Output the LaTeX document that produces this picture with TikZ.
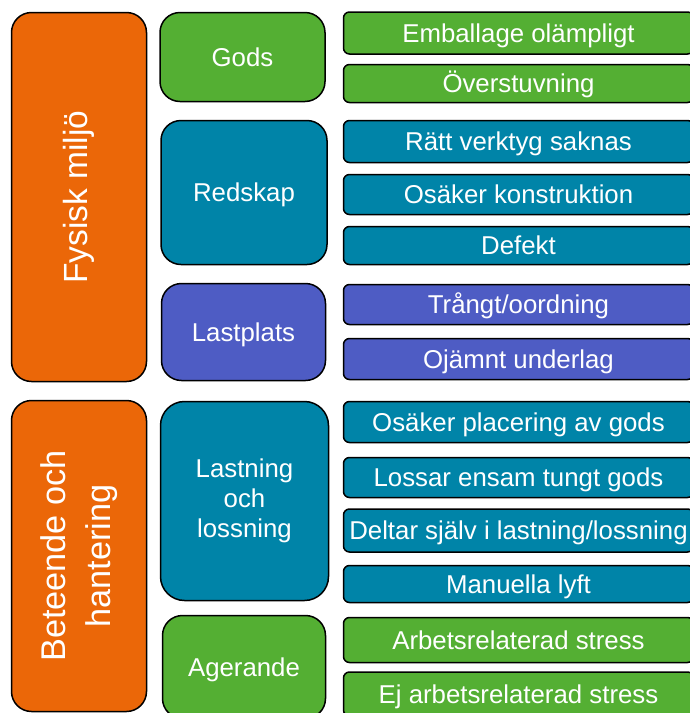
\documentclass[tikz,border=0pt]{standalone}
\usepackage{fontspec}
\setmainfont{Liberation Sans}
\definecolor{orangebox}{RGB}{235,103,8}
\definecolor{greenbox}{RGB}{84,175,51}
\definecolor{tealbox}{RGB}{0,132,168}
\definecolor{purplebox}{RGB}{78,92,196}

\begin{document}
\begin{tikzpicture}[x=1pt, y=-1pt,
  box/.style={rectangle, draw=black, line width=1.5pt, text=white, inner sep=0pt, align=center},
  mainbox/.style={box, fill=orangebox, rounded corners=20pt, rotate=90, minimum height=135pt},
  groupbox/.style={box, rounded corners=20pt, font=\fontsize{25.8}{30}\selectfont},
  itembox/.style={box, rounded corners=6pt, minimum width=350pt, font=\fontsize{25.8}{30}\selectfont, text height=18.6pt, text depth=0pt}]
  \clip (0,0) rectangle (690,713);

  \node[mainbox, minimum width=369pt, font=\fontsize{33.5}{40}\selectfont] (fysisk) at (79,197) {Fysisk miljö};
  \node[mainbox, minimum width=311pt, font=\fontsize{34.3}{45}\selectfont] (beteende) at (79,556) {Beteende och\\hantering};

  \node[groupbox, fill=greenbox, minimum width=165pt, minimum height=89pt, text height=18.6pt, text depth=0pt] (gods) at (242.5,57) {Gods};
  \node[groupbox, fill=tealbox, minimum width=166pt, minimum height=144pt, text height=18.6pt, text depth=0pt] (redskap) at (244,192.5) {Redskap};
  \node[groupbox, fill=purplebox, minimum width=164pt, minimum height=97pt, text height=18.6pt, text depth=0pt] (lastplats) at (243.5,332) {Lastplats};
  \node[groupbox, fill=tealbox, minimum width=168pt, minimum height=199pt, rounded corners=24pt] (lastning) at (244.5,501) {Lastning\\och\\lossning};
  \node[groupbox, fill=greenbox, minimum width=163pt, minimum height=103pt, text height=18.6pt, text depth=0pt] (agerande) at (244,667) {Agerande};

  % Gods
  \node[itembox, fill=greenbox, minimum height=42pt] (emballage) at (518.5,33) {Emballage olämpligt};
  \node[itembox, fill=greenbox, minimum height=38pt] (overstuvning) at (518.5,83.5) {Överstuvning};
  % Redskap
  \node[itembox, fill=tealbox, minimum height=42pt] (verktyg) at (518.5,141.5) {Rätt verktyg saknas};
  \node[itembox, fill=tealbox, minimum height=40pt] (konstruktion) at (518.5,194.5) {Osäker konstruktion};
  \node[itembox, fill=tealbox, minimum height=38pt] (defekt) at (518.5,245.5) {Defekt};
  % Lastplats
  \node[itembox, fill=purplebox, minimum height=40pt] (trangt) at (518.5,304.5) {Trångt/oordning};
  \node[itembox, fill=purplebox, minimum height=41pt] (underlag) at (518.5,359) {Ojämnt underlag};
  % Lastning och lossning
  \node[itembox, fill=tealbox, minimum height=41pt] (placering) at (518.5,422) {Osäker placering av gods};
  \node[itembox, fill=tealbox, minimum height=40pt] (ensam) at (518.5,477.5) {Lossar ensam tungt gods};
  \node[itembox, fill=tealbox, minimum height=43pt] (deltar) at (518.5,530.5) {Deltar själv i lastning/lossning};
  \node[itembox, fill=tealbox, minimum height=37pt] (manuella) at (518.5,584) {Manuella lyft};
  % Agerande
  \node[itembox, fill=greenbox, minimum height=45pt] (arbetsstress) at (518.5,640) {Arbetsrelaterad stress};
  \node[itembox, fill=greenbox, minimum height=44pt] (ejstress) at (518.5,694) {Ej arbetsrelaterad stress};
\end{tikzpicture}
\end{document}
